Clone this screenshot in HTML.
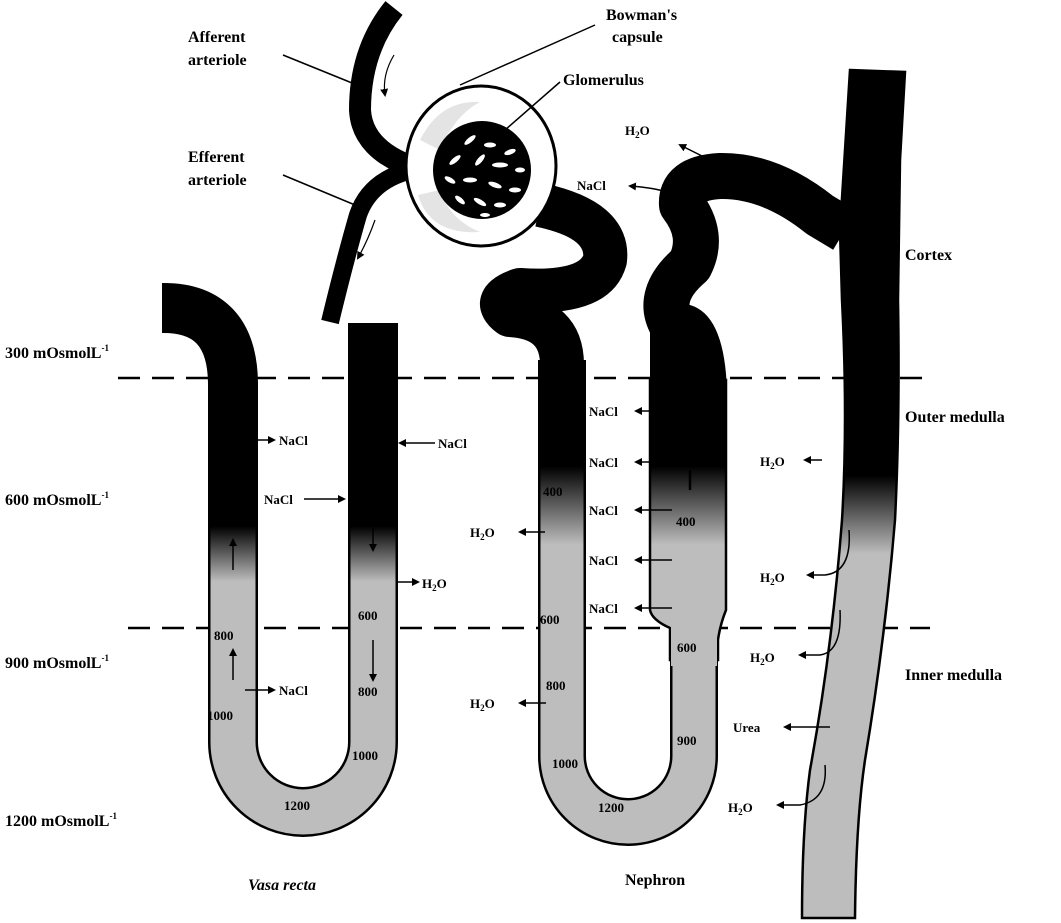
<!DOCTYPE html>
<html><head><meta charset="utf-8"><style>
html,body{margin:0;padding:0;background:#fff;}
svg{display:block}
text{font-family:"Liberation Serif",serif;font-size:16px;fill:#000;font-weight:bold}
.s{font-size:13px;font-weight:bold}
</style></head><body>
<svg width="1061" height="923" viewBox="0 0 1061 923" xmlns="http://www.w3.org/2000/svg">
<defs>
<linearGradient id="gv" gradientUnits="userSpaceOnUse" x1="0" y1="0" x2="0" y2="923">
<stop offset="0" stop-color="#000"/><stop offset="0.57" stop-color="#000"/><stop offset="0.63" stop-color="#bdbdbd"/><stop offset="1" stop-color="#bdbdbd"/></linearGradient>
<linearGradient id="gn" gradientUnits="userSpaceOnUse" x1="0" y1="0" x2="0" y2="923">
<stop offset="0" stop-color="#000"/><stop offset="0.505" stop-color="#000"/><stop offset="0.59" stop-color="#bdbdbd"/><stop offset="1" stop-color="#bdbdbd"/></linearGradient>
<linearGradient id="gc" gradientUnits="userSpaceOnUse" x1="0" y1="0" x2="0" y2="923">
<stop offset="0" stop-color="#000"/><stop offset="0.515" stop-color="#000"/><stop offset="0.6" stop-color="#bdbdbd"/><stop offset="1" stop-color="#bdbdbd"/></linearGradient>
<marker id="ah" markerWidth="8" markerHeight="8" refX="6" refY="4" orient="auto" markerUnits="userSpaceOnUse"><path d="M0,0 L8,4 L0,8 z" fill="#000"/></marker>
</defs>

<line x1="118" y1="378" x2="930" y2="378" stroke="#000" stroke-width="2.5" stroke-dasharray="22,12"/>
<line x1="128" y1="628" x2="930" y2="628" stroke="#000" stroke-width="2.5" stroke-dasharray="22,12"/>

<path d="M160,308 Q233,306 233,385 L233,742 A70,70 0 0 0 373,742 L373,323" fill="none" stroke="#000" stroke-width="50"/>
<path d="M160,308 Q233,306 233,385 L233,742 A70,70 0 0 0 373,742 L373,325" fill="none" stroke="url(#gv)" stroke-width="45"/>
<rect x="150" y="283" width="12" height="50" fill="#fff"/>

<path d="M562,360 L562,756 A66,66 0 0 0 694,756 L694,640" fill="none" stroke="#000" stroke-width="48"/>
<path d="M562,360 L562,756 A66,66 0 0 0 694,756 L694,640" fill="none" stroke="url(#gn)" stroke-width="43"/>
<path d="M650,380 L650,610 Q652,620 670,628 L670,660 L718,660 L718,640 Q720,625 726,610 L726,380 Z" fill="url(#gn)" stroke="#000" stroke-width="2.5"/>
<rect x="671" y="626" width="46" height="40" fill="#bdbdbd"/>

<path d="M850,70 L905,72 L900,160 L898,300 Q900,420 895,520 Q885,640 865,760 Q856,820 855,918 L802,918 Q802,830 810,770 Q832,650 842,520 Q848,420 842,300 L840,230 Z" fill="url(#gc)" stroke="#000" stroke-width="2.5"/>

<path d="M540,205 Q610,220 605,260 Q595,295 520,290 Q490,300 510,315 Q562,318 562,365" fill="none" stroke="#000" stroke-width="44" stroke-linejoin="round"/>
<path d="M688,395 L688,370 Q690,345 672,325 Q655,295 690,265 Q705,235 682,205 Q680,178 720,176 Q770,175 820,215 L845,230" fill="none" stroke="#000" stroke-width="46" stroke-linejoin="round"/>
<path d="M650,392 L650,330 Q655,300 690,305 Q725,315 727,392 Z" fill="#000"/>

<path d="M394,8 Q360,50 360,110 Q362,150 415,168" fill="none" stroke="#000" stroke-width="22"/>
<path d="M412,170 Q370,180 358,215 Q345,260 330,322" fill="none" stroke="#000" stroke-width="18"/>
<path d="M394,55 Q382,75 385,95" fill="none" stroke="#000" stroke-width="1.2" marker-end="url(#ah)"/>
<path d="M375,220 Q368,240 358,258" fill="none" stroke="#000" stroke-width="1.2" marker-end="url(#ah)"/>

<ellipse cx="481" cy="166" rx="75" ry="80" fill="#fff" stroke="#000" stroke-width="3"/>
<path d="M420,140 Q440,100 480,102 Q455,115 440,150 Z M418,195 Q430,235 480,232 Q450,220 440,190 Z" fill="#e4e4e4"/>
<circle cx="482" cy="170" r="49" fill="#000"/>
<g fill="#fff">
<ellipse cx="470" cy="140" rx="7" ry="2.5" transform="rotate(-40 470 140)"/>
<ellipse cx="490" cy="145" rx="6" ry="2.5"/>
<ellipse cx="510" cy="152" rx="6" ry="2.5" transform="rotate(-20 510 152)"/>
<ellipse cx="455" cy="160" rx="7" ry="2.5" transform="rotate(-40 455 160)"/>
<ellipse cx="480" cy="160" rx="7" ry="2.5" transform="rotate(-50 480 160)"/>
<ellipse cx="500" cy="165" rx="8" ry="2.5"/>
<ellipse cx="520" cy="170" rx="5" ry="2.5"/>
<ellipse cx="450" cy="180" rx="6" ry="2.5" transform="rotate(30 450 180)"/>
<ellipse cx="470" cy="180" rx="7" ry="2.5"/>
<ellipse cx="495" cy="185" rx="7" ry="2.5" transform="rotate(20 495 185)"/>
<ellipse cx="515" cy="190" rx="6" ry="2.5"/>
<ellipse cx="460" cy="200" rx="6" ry="2.5" transform="rotate(40 460 200)"/>
<ellipse cx="480" cy="202" rx="7" ry="2.5" transform="rotate(30 480 202)"/>
<ellipse cx="500" cy="205" rx="6" ry="2.5"/>
<ellipse cx="485" cy="215" rx="5" ry="2"/>
</g>

<line x1="283" y1="55" x2="357" y2="85" stroke="#000" stroke-width="1.5"/>
<line x1="283" y1="175" x2="355" y2="205" stroke="#000" stroke-width="1.5"/>
<line x1="595" y1="25" x2="460" y2="85" stroke="#000" stroke-width="1.5"/>
<line x1="560" y1="82" x2="505" y2="130" stroke="#000" stroke-width="1.5"/>

<text x="188" y="42">Afferent</text><text x="188" y="65">arteriole</text>
<text x="188" y="162">Efferent</text><text x="188" y="185">arteriole</text>
<text x="606" y="20">Bowman's</text><text x="612" y="42">capsule</text>
<text x="563" y="85">Glomerulus</text>

<text x="905" y="260">Cortex</text>
<text x="905" y="422">Outer medulla</text>
<text x="905" y="680">Inner medulla</text>
<text x="5" y="358">300 mOsmolL<tspan font-size="9" dy="-7">-1</tspan></text>
<text x="5" y="505">600 mOsmolL<tspan font-size="9" dy="-7">-1</tspan></text>
<text x="5" y="668">900 mOsmolL<tspan font-size="9" dy="-7">-1</tspan></text>
<text x="5" y="826">1200 mOsmolL<tspan font-size="9" dy="-7">-1</tspan></text>
<text x="248" y="890" font-style="italic">Vasa recta</text>
<text x="625" y="885">Nephron</text>

<g stroke="#000" stroke-width="1.5" fill="none">
<line x1="258" y1="440" x2="274" y2="440" marker-end="url(#ah)"/>
<line x1="304" y1="499" x2="344" y2="499" marker-end="url(#ah)"/>
<line x1="435" y1="443" x2="400" y2="443" marker-end="url(#ah)"/>
<line x1="397" y1="582" x2="418" y2="582" marker-end="url(#ah)"/>
<line x1="245" y1="690" x2="274" y2="690" marker-end="url(#ah)"/>
<line x1="233" y1="570" x2="233" y2="540" marker-end="url(#ah)"/>
<line x1="233" y1="680" x2="233" y2="650" marker-end="url(#ah)"/>
<line x1="373" y1="640" x2="373" y2="680" marker-end="url(#ah)"/>
<line x1="373" y1="528" x2="373" y2="550" marker-end="url(#ah)"/>
<line x1="650" y1="411" x2="636" y2="411" marker-end="url(#ah)"/>
<line x1="650" y1="462" x2="636" y2="462" marker-end="url(#ah)"/>
<line x1="672" y1="510" x2="636" y2="510" marker-end="url(#ah)"/>
<line x1="672" y1="560" x2="636" y2="560" marker-end="url(#ah)"/>
<line x1="672" y1="608" x2="636" y2="608" marker-end="url(#ah)"/>
<line x1="545" y1="532" x2="520" y2="532" marker-end="url(#ah)"/>
<line x1="546" y1="703" x2="520" y2="703" marker-end="url(#ah)"/>
<line x1="822" y1="460" x2="805" y2="460" marker-end="url(#ah)"/>
<path d="M849,530 Q852,572 825,575 L808,575" marker-end="url(#ah)"/>
<path d="M840,610 Q842,652 820,655 L800,655" marker-end="url(#ah)"/>
<line x1="830" y1="727" x2="785" y2="727" marker-end="url(#ah)"/>
<path d="M825,765 Q828,800 800,805 L778,805" marker-end="url(#ah)"/>
<path d="M710,160 Q700,155 680,145" marker-end="url(#ah)"/>
<path d="M666,192 Q655,188 630,186" marker-end="url(#ah)"/>
</g>
<line x1="690" y1="490" x2="690" y2="470" stroke="#000" stroke-width="2.5"/>

<g>
<text class="s" x="279" y="445">NaCl</text>
<text class="s" x="264" y="504">NaCl</text>
<text class="s" x="438" y="448">NaCl</text>
<text class="s" x="422" y="588">H<tspan font-size="9" dy="3">2</tspan><tspan dy="-3">O</tspan></text>
<text class="s" x="279" y="695">NaCl</text>
<text class="s" x="214" y="640" font-size="12">800</text>
<text class="s" x="207" y="720" font-size="11">1000</text>
<text class="s" x="358" y="620" font-size="12">600</text>
<text class="s" x="358" y="696" font-size="12">800</text>
<text class="s" x="352" y="760" font-size="11">1000</text>
<text class="s" x="284" y="810" font-size="12">1200</text>
<text class="s" x="589" y="416">NaCl</text>
<text class="s" x="589" y="467">NaCl</text>
<text class="s" x="589" y="515">NaCl</text>
<text class="s" x="589" y="565">NaCl</text>
<text class="s" x="589" y="613">NaCl</text>
<text class="s" x="543" y="496" font-size="12">400</text>
<text class="s" x="676" y="526" font-size="12">400</text>
<text class="s" x="540" y="624" font-size="12">600</text>
<text class="s" x="677" y="652" font-size="12">600</text>
<text class="s" x="546" y="690" font-size="12">800</text>
<text class="s" x="677" y="745" font-size="12">900</text>
<text class="s" x="552" y="768" font-size="11">1000</text>
<text class="s" x="598" y="812" font-size="12">1200</text>
<text class="s" x="470" y="537">H<tspan font-size="9" dy="3">2</tspan><tspan dy="-3">O</tspan></text>
<text class="s" x="470" y="708">H<tspan font-size="9" dy="3">2</tspan><tspan dy="-3">O</tspan></text>
<text class="s" x="625" y="135">H<tspan font-size="9" dy="3">2</tspan><tspan dy="-3">O</tspan></text>
<text class="s" x="577" y="190">NaCl</text>
<text class="s" x="760" y="466">H<tspan font-size="9" dy="3">2</tspan><tspan dy="-3">O</tspan></text>
<text class="s" x="760" y="582">H<tspan font-size="9" dy="3">2</tspan><tspan dy="-3">O</tspan></text>
<text class="s" x="750" y="662">H<tspan font-size="9" dy="3">2</tspan><tspan dy="-3">O</tspan></text>
<text class="s" x="733" y="732">Urea</text>
<text class="s" x="728" y="812">H<tspan font-size="9" dy="3">2</tspan><tspan dy="-3">O</tspan></text>
</g>
</svg>
</body></html>
